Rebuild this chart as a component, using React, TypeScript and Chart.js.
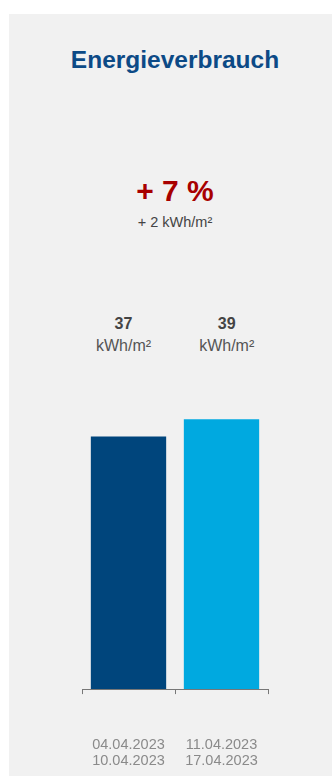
import React, { useEffect, useRef } from "react";
import { Chart, registerables } from "chart.js";

Chart.register(...registerables);

const title = "Energieverbrauch";
const changePercent = "+ 7 %";
const changeAbsolute = "+ 2 kWh/m²";
const unit = "kWh/m²";
const periods: string[][] = [
  ["04.04.2023", "10.04.2023"],
  ["11.04.2023", "17.04.2023"],
];
const values: number[] = [36.6, 39.1];
const valueLabels: string[] = ["37", "39"];
const barColors: string[] = ["#00457c", "#00a9e0"];

const FONT = "Arial, 'Liberation Sans', sans-serif";

export default function App() {
  const ref = useRef<HTMLCanvasElement | null>(null);

  useEffect(() => {
    if (!ref.current) return;
    const chart = new Chart(ref.current, {
      type: "bar",
      data: {
        labels: periods,
        datasets: [
          {
            data: values,
            backgroundColor: barColors,
            borderWidth: 0,
            categoryPercentage: 0.9,
            barPercentage: 0.9,
          },
        ],
      },
      options: {
        responsive: false,
        animation: false,
        devicePixelRatio: 1,
        layout: { padding: { left: 73, right: 64, top: 9, bottom: 0 } },
        plugins: {
          legend: { display: false },
          tooltip: { enabled: false },
          title: { display: false },
        },
        scales: {
          x: {
            offset: true,
            grid: {
              offset: true,
              drawOnChartArea: false,
              drawTicks: true,
              tickLength: 5,
              color: "#777777",
            },
            border: { display: true, color: "#777777", width: 1 },
            ticks: {
              padding: 43,
              color: "#8a8a8a",
              font: { family: FONT, size: 14.5, lineHeight: 1.1 },
            },
          },
          y: {
            display: false,
            min: 0,
            max: 40,
          },
        },
      },
    });
    return () => chart.destroy();
  }, []);

  const abs = (top: number, size: number, extra: React.CSSProperties = {}): React.CSSProperties => ({
    position: "absolute",
    top,
    left: 0,
    width: 332,
    textAlign: "center",
    fontFamily: FONT,
    fontSize: size,
    lineHeight: size + "px",
    whiteSpace: "nowrap",
    ...extra,
  });

  const labelCenters = [114.5, 217.7];

  return (
    <div
      style={{
        position: "absolute",
        left: 9,
        top: 14,
        width: 323,
        height: 762,
        background: "#f1f1f1",
        overflow: "hidden",
      }}
    >
      <div style={abs(33.5, 24.5, { fontWeight: "bold", color: "#0c4a86" })}>{title}</div>
      <div style={abs(162, 30, { fontWeight: "bold", color: "#a80000" })}>{changePercent}</div>
      <div style={abs(201, 14.5, { color: "#444444" })}>{changeAbsolute}</div>
      {valueLabels.map((v, i) => (
        <React.Fragment key={i}>
          <div
            style={{
              position: "absolute",
              top: 301.5,
              left: labelCenters[i] - 50,
              width: 100,
              textAlign: "center",
              fontFamily: FONT,
              fontSize: 16,
              lineHeight: "16px",
              fontWeight: "bold",
              color: "#444444",
            }}
          >
            {v}
          </div>
          <div
            style={{
              position: "absolute",
              top: 324,
              left: labelCenters[i] - 50,
              width: 100,
              textAlign: "center",
              fontFamily: FONT,
              fontSize: 16,
              lineHeight: "16px",
              color: "#555555",
            }}
          >
            {unit}
          </div>
        </React.Fragment>
      ))}
      <canvas
        ref={ref}
        width={323}
        height={408}
        style={{ position: "absolute", left: 0, top: 390, width: 323, height: 408 }}
      />
    </div>
  );
}
